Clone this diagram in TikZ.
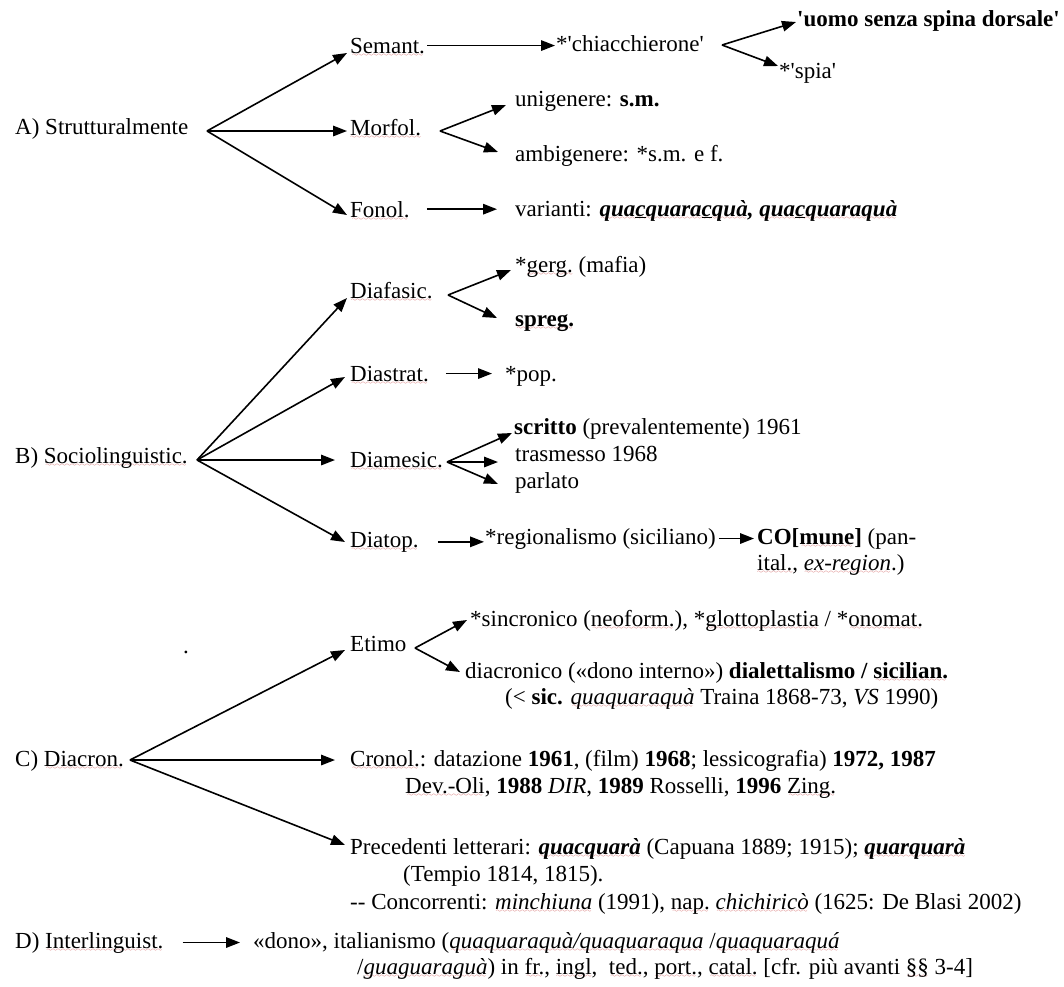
\documentclass[tikz,border=0pt]{standalone}
\usepackage{fontspec}
\setmainfont{Liberation Serif}
\usetikzlibrary{arrows.meta, positioning}

\definecolor{wavered}{RGB}{205,80,80}
\font\sixly=lasy6
\newcommand\wv[1]{\setbox0\hbox{#1}\rlap{\smash{\lower3.5pt\hbox to\wd0{\color{wavered}\cleaders\hbox{\sixly\char58}\hfil}}}\box0\relax}
\newcommand\sq{\textquotesingle}

\begin{document}
\begin{tikzpicture}[
    x=1pt, y=-1pt,
    txt/.style={anchor=base west, inner sep=1pt, font=\fontsize{23}{27}\selectfont},
    arr/.style={-{Triangle[length=14pt,width=10.5pt]}, line width=1.6pt},
]
    \useasboundingbox (0,0) rectangle (1064,986);

    \node[txt] (strut)   at (14,134)  {A) Strutturalmente};
    \node[txt] (semant)  at (349,53)  {\wv{Semant.}};
    \node[txt] (morfol)  at (349,135) {\wv{Morfol.}};
    \node[txt] (fonol)   at (349,217) {\wv{Fonol.}};
    \node[txt] (chiac)   at (555,51)  {*\sq chiacchierone\sq};
    \node[txt] (uomo)    at (796,26)  {\textbf{\sq uomo senza spina dorsale\sq}};
    \node[txt] (spia)    at (778,78)  {*\sq spia\sq};
    \node[txt] (unig)    at (514,106) {unigenere: \textbf{s.m.}};
    \node[txt] (ambig)   at (514,161) {ambigenere: *s.m. e f.};
    \node[txt] (var)     at (514,216) {varianti: \textbf{\textit{\wv{qua\underline{c}quara\underline{c}quà}, \wv{qua\underline{c}quaraquà}}}};

    \node[txt] (socio)   at (14,463)  {B) \wv{Sociolinguistic.}};
    \node[txt] (diafas)  at (349,298) {\wv{Diafasic.}};
    \node[txt] (diastr)  at (349,381) {\wv{Diastrat.}};
    \node[txt] (diames)  at (349,467) {\wv{Diamesic.}};
    \node[txt] (diatop)  at (349,547) {\wv{Diatop.}};
    \node[txt] (gerg)    at (514,272) {*\wv{gerg.} (mafia)};
    \node[txt] (spreg)   at (514,326) {\textbf{\wv{spreg.}}};
    \node[txt] (pop)     at (504,381) {*pop.};
    \node[txt] (scritto) at (513,434) {\textbf{scritto} (prevalentemente) 1961};
    \node[txt] (trasm)   at (514,461) {trasmesso 1968};
    \node[txt] (parl)    at (514,488) {parlato};
    \node[txt] (regio)   at (484,544) {*regionalismo (siciliano)};
    \node[txt] (comune)  at (756,544) {\textbf{CO[\wv{mune}]} (pan-};
    \node[txt] (comuneb) at (756,570) {\wv{ital.}, \wv{\textit{ex-region}}.)};

    \node[txt] (dot)     at (182,653) {.};
    \node[txt] (diacr)   at (14,766)  {C) \wv{Diacron.}};
    \node[txt] (etimo)   at (349,651) {Etimo};
    \node[txt] (sincr)   at (469,626) {*sincronico (\wv{neoform.}), *\wv{glottoplastia} / *\wv{onomat.}};
    \node[txt] (diacro)  at (464,678) {diacronico («dono interno») \textbf{dialettalismo / \wv{sicilian.}}};
    \node[txt] (diacrob) at (504,704) {(< \textbf{sic.} \wv{\textit{quaquaraquà}} Traina 1868-73, \textit{VS} 1990)};
    \node[txt] (cronol)  at (349,766) {\wv{Cronol.}: datazione \textbf{1961}, (film) \textbf{1968}; lessicografia) \textbf{1972, 1987}};
    \node[txt] (cronolb) at (404,793) {\wv{Dev.-Oli}, \textbf{1988} \textit{DIR}, \textbf{1989} Rosselli, \textbf{1996} \wv{Zing.}};
    \node[txt] (preced)  at (349,854) {Precedenti letterari: \wv{\textbf{\textit{quacquarà}}} (Capuana 1889; 1915); \wv{\textbf{\textit{quarquarà}}}};
    \node[txt] (precedb) at (402,881) {(Tempio 1814, 1815).};
    \node[txt] (concorr) at (349,909) {-{}- Concorrenti: \wv{\textit{minchiuna}} (1991), \wv{nap.} \wv{\textit{chichiricò}} (1625: De Blasi 2002)};

    \node[txt] (inter)   at (14,948)  {D) \wv{Interlinguist.}};
    \node[txt] (dono)    at (252,948) {«dono», italianismo (\wv{\textit{quaquaraquà/quaquaraqua}} /\wv{\textit{quaquaraquá}}};
    \node[txt] (donob)   at (356,974) {/\wv{\textit{guaguaraguà}}) in \wv{fr.}, \wv{ingl},\ \ \wv{ted.}, \wv{port.}, \wv{catal.} [cfr. più avanti \wv{§§} 3-4]};

    \coordinate (sA) at (207,131);
    \coordinate (sC) at (722,45);
    \coordinate (sM) at (440,131);
    \coordinate (sB) at (197,460);
    \coordinate (sF) at (448,295);
    \coordinate (sD) at (447,462);
    \coordinate (sDi) at (130,760);
    \coordinate (sE) at (415,648);

    \draw[arr] (sA) -- ([xshift=-2pt]semant.base west);
    \draw[arr, shorten >=2pt] (sA) -- (sA -| morfol.west);
    \draw[arr] (sA) -- ([xshift=-2pt,yshift=2pt]fonol.base west);
    \draw[arr, shorten <=1pt] (semant.east) -- (semant.east -| chiac.west);
    \draw[arr] (sC) -- ([yshift=4pt]uomo.base west);
    \draw[arr] (sC) -- ([yshift=12pt]spia.base west);
    \draw[arr] (sM) -- ([xshift=-8pt,yshift=1pt]unig.base west);
    \draw[arr] (sM) -- ([xshift=-16pt,yshift=9pt]ambig.base west);
    \draw[arr, shorten <=16pt, shorten >=17pt] (fonol.east) -- (fonol.east -| var.west);

    \draw[arr] (sB) -- ([xshift=-2pt]diafas.base west);
    \draw[arr] (sB) -- ([xshift=-4pt,yshift=4pt]diastr.base west);
    \draw[arr, shorten >=14pt] (sB) -- (sB -| diames.west);
    \draw[arr] (sB) -- ([xshift=-4pt,yshift=5pt]diatop.base west);
    \draw[arr] (sF) -- ([xshift=-3pt,yshift=2pt]gerg.base west);
    \draw[arr] (sF) -- ([xshift=-17pt,yshift=8pt]spreg.base west);
    \draw[arr, shorten <=16pt, shorten >=12pt] (diastr.east) -- (diastr.east -| pop.west);
    \draw[arr] (sD) -- ([xshift=-1pt,yshift=1pt]scritto.base west);
    \draw[arr, shorten >=16pt] (sD) -- (sD -| trasm.west);
    \draw[arr] (sD) -- ([xshift=-16pt,yshift=4pt]parl.base west);
    \draw[arr, shorten <=18pt] (diatop.east) -- (diatop.east -| regio.west);
    \draw[arr, shorten <=2pt, shorten >=2pt] (regio.east) -- (regio.east -| comune.west);

    \draw[arr] (sDi) -- ([xshift=-4pt,yshift=1pt]etimo.base west);
    \draw[arr, shorten >=14pt] (sDi) -- (sDi -| cronol.west);
    \draw[arr] (sDi) -- ([xshift=-4pt,yshift=9pt]preced.base west);
    \draw[arr] (sE) -- ([xshift=-2pt,yshift=6pt]sincr.base west);
    \draw[arr] (sE) -- ([xshift=-4pt,yshift=6pt]diacro.base west);

    \draw[arr, shorten <=18pt, shorten >=12pt] (inter.east) -- (inter.east -| dono.west);
\end{tikzpicture}
\end{document}
